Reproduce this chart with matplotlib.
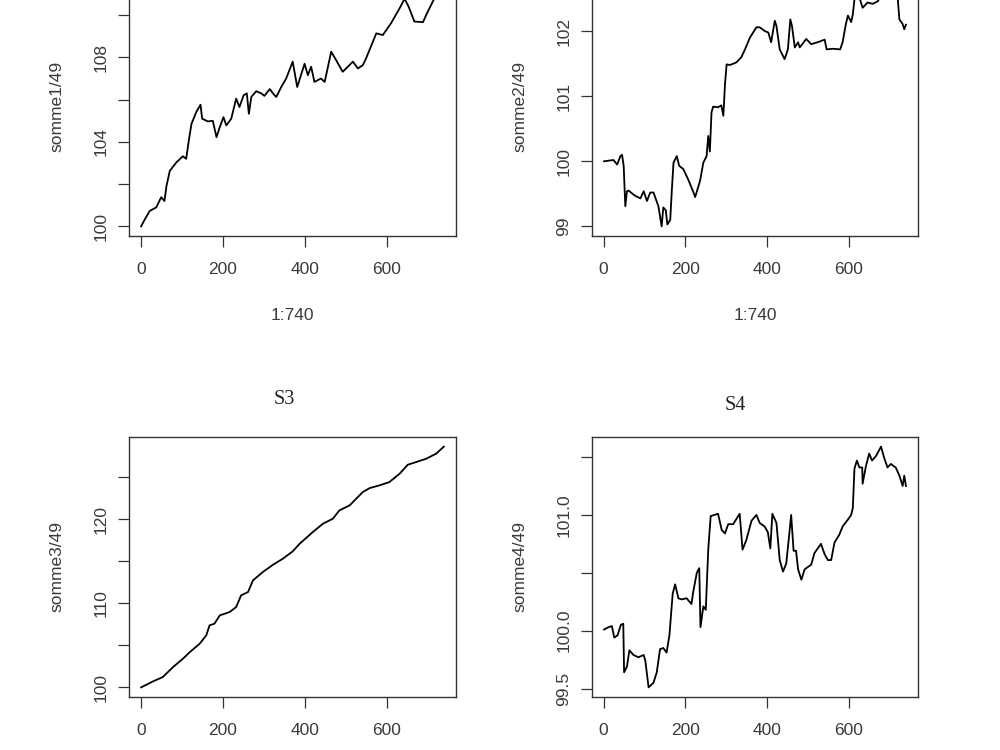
import numpy as np
import matplotlib
matplotlib.use("Agg")
import matplotlib.pyplot as plt

# ---- values (time index -> somme/49) --------------------------------------
N = 740

s1_t = [1, 10, 22, 38, 50, 58, 63, 71, 87, 103, 111, 118, 124, 136, 146, 150, 164, 176,
        185, 193, 202, 209, 221, 233, 241, 251, 259, 264, 270, 282, 294, 302, 315, 327,
        331, 343, 355, 371, 382, 400, 408, 416, 424, 440, 449, 465, 477, 493, 518, 530,
        542, 550, 575, 591, 611, 632, 644, 654, 668, 689, 697, 713, 726, 740]
s1_v = [100.0, 100.33, 100.73, 100.9, 101.38, 101.2, 101.92, 102.63, 103.03, 103.32,
        103.2, 104.14, 104.86, 105.43, 105.76, 105.1, 104.97, 105.0, 104.22, 104.7,
        105.17, 104.78, 105.1, 106.05, 105.65, 106.2, 106.3, 105.33, 106.13, 106.4,
        106.3, 106.18, 106.5, 106.2, 106.13, 106.6, 107.0, 107.8, 106.6, 107.7,
        107.16, 107.56, 106.84, 107.0, 106.84, 108.27, 107.87, 107.32, 107.8, 107.48,
        107.63, 107.95, 109.14, 109.06, 109.62, 110.33, 110.78, 110.4, 109.7, 109.67,
        110.02, 110.65, 111.1, 111.4]

s2_t = [1, 24, 33, 41, 45, 49, 53, 57, 61, 77, 90, 98, 106, 114, 122, 134, 142, 146,
        152, 156, 163, 167, 171, 179, 185, 195, 207, 220, 224, 236, 244, 252, 256, 260,
        264, 268, 280, 288, 293, 297, 301, 309, 325, 337, 346, 358, 374, 382, 395, 403,
        410, 419, 423, 431, 443, 451, 457, 461, 468, 476, 480, 496, 508, 524, 541, 546,
        561, 579, 585, 593, 598, 606, 610, 614, 622, 634, 646, 659, 671, 685, 698, 710,
        720, 724, 732, 736, 740]
s2_v = [100.0, 100.02, 99.95, 100.08, 100.1, 99.93, 99.31, 99.54, 99.55, 99.47,
        99.43, 99.54, 99.39, 99.52, 99.52, 99.31, 99.0, 99.29, 99.25, 99.03,
        99.1, 99.57, 99.98, 100.08, 99.93, 99.88, 99.72, 99.52, 99.45, 99.7,
        99.98, 100.08, 100.39, 100.15, 100.75, 100.84, 100.83, 100.86, 100.7, 101.18,
        101.49, 101.48, 101.52, 101.6, 101.72, 101.9, 102.06, 102.06, 102.0, 101.98,
        101.83, 102.16, 102.08, 101.72, 101.57, 101.72, 102.18, 102.08, 101.75, 101.83,
        101.75, 101.88, 101.8, 101.83, 101.87, 101.72, 101.73, 101.72, 101.83, 102.11,
        102.24, 102.14, 102.26, 102.49, 102.6, 102.36, 102.44, 102.42, 102.46, 102.6,
        102.7, 102.62, 102.5, 102.18, 102.11, 102.03, 102.1]

s3_t = [1, 30, 54, 79, 103, 120, 144, 160, 168, 180, 193, 217, 233, 245, 262, 274, 298,
        323, 347, 371, 388, 420, 445, 469, 485, 510, 542, 559, 583, 607, 632, 652, 672,
        697, 721, 740]
s3_v = [100.0, 100.71, 101.23, 102.42, 103.41, 104.2, 105.2, 106.19, 107.38, 107.58,
        108.57, 108.97, 109.56, 110.95, 111.35, 112.74, 113.73, 114.6, 115.32, 116.19,
        117.1, 118.49, 119.49, 120.08, 121.07, 121.67, 123.25, 123.73, 124.05, 124.44,
        125.44, 126.51, 126.82, 127.22, 127.82, 128.66]

s4_t = [1, 12, 20, 26, 34, 42, 48, 50, 57, 63, 73, 85, 98, 102, 110, 122, 130, 138, 146,
        154, 161, 169, 175, 183, 191, 203, 215, 219, 228, 234, 237, 244, 250, 256, 262,
        280, 289, 297, 305, 317, 333, 340, 349, 362, 374, 382, 394, 402, 408, 413, 423,
        431, 439, 447, 454, 459, 465, 471, 476, 484, 492, 508, 516, 528, 532, 541, 549,
        557, 565, 577, 585, 598, 606, 610, 614, 620, 626, 633, 634, 642, 650, 657, 667,
        679, 687, 695, 703, 715, 724, 732, 736, 740]
s4_v = [100.01, 100.03, 100.04, 99.94, 99.96, 100.05, 100.06, 99.64, 99.69, 99.83,
        99.79, 99.77, 99.79, 99.74, 99.51, 99.55, 99.64, 99.84, 99.85, 99.81,
        99.96, 100.32, 100.4, 100.28, 100.27, 100.28, 100.23, 100.33, 100.5, 100.54,
        100.03, 100.21, 100.18, 100.7, 100.99, 101.01, 100.87, 100.84, 100.92, 100.92,
        101.01, 100.7, 100.78, 100.95, 101.0, 100.93, 100.9, 100.85, 100.71, 101.01,
        100.93, 100.61, 100.51, 100.58, 100.82, 101.0, 100.69, 100.69, 100.53, 100.44,
        100.53, 100.57, 100.67, 100.73, 100.75, 100.66, 100.61, 100.61, 100.76, 100.83,
        100.9, 100.96, 101.0, 101.06, 101.4, 101.47, 101.41, 101.41, 101.27, 101.42,
        101.53, 101.47, 101.51, 101.59, 101.49, 101.41, 101.44, 101.41, 101.34, 101.25,
        101.34, 101.25]

x_ticks = [0, 200, 400, 600]
y_ticks = {
    1: ([100, 102, 104, 106, 108, 110], ["100", "", "104", "", "108", ""]),
    2: ([99, 100, 101, 102], ["99", "100", "101", "102"]),
    3: ([100, 105, 110, 115, 120, 125], ["100", "", "110", "", "120", ""]),
    4: ([99.5, 100, 100.5, 101, 101.5], ["99.5", "100.0", "", "101.0", ""]),
}
ylabels = {1: "somme1/49", 2: "somme2/49", 3: "somme3/49", 4: "somme4/49"}
xlabel = "1:740"
titles = {3: "S3", 4: "S4"}

TXT = "#3a3a3a"
plt.rcParams["font.family"] = ["Liberation Sans", "DejaVu Sans"]
plt.rcParams["font.size"] = 12.5


def rlim(v, pad=0.04):
    # R-style axis range: data range plus 4% each side
    lo, hi = min(v), max(v)
    r = hi - lo
    return lo - pad * r, hi + pad * r


fig = plt.figure(figsize=(10, 7.5), dpi=100)
W, H = 1000.0, 750.0


def panel(k, left, right, top, bottom, t, v, show_xlabel, title_x=None, title_y=None):
    ax = fig.add_axes([left / W, 1 - bottom / H, (right - left) / W, (bottom - top) / H])
    ax.plot(t, v, color="black", lw=1.3)
    ax.set_xlim(rlim([1, N]))
    ax.set_ylim(rlim(v))
    ax.set_xticks(x_ticks)
    ax.set_xticklabels([str(x) for x in x_ticks])
    yt, yl = y_ticks[k]
    ax.set_yticks(yt)
    ax.set_yticklabels(yl, rotation=90, va="center")
    ax.tick_params(direction="out", length=8, width=0.9, color="#333333",
                   labelcolor=TXT, labelsize=12.5)
    ax.tick_params(axis="x", pad=11)
    ax.tick_params(axis="y", pad=7)
    for s in ax.spines.values():
        s.set_color("#333333")
        s.set_linewidth(1.0)
    ax.set_ylabel(ylabels[k], color=TXT, labelpad=21)
    if show_xlabel:
        ax.set_xlabel(xlabel, color=TXT, labelpad=22)
    if k in titles:
        fig.text(title_x / W, 1 - title_y / H, titles[k], ha="center", va="center",
                 fontsize=14.5, color="#222222",
                 family=["Liberation Serif", "DejaVu Serif"])
    return ax


panel(1, 129, 456, -24, 236, s1_t, s1_v, True)
panel(2, 592, 918, -24, 236, s2_t, s2_v, True)
panel(3, 129, 456, 437, 697, s3_t, s3_v, False, 284, 400)
panel(4, 592, 918, 437, 697, s4_t, s4_v, False, 735, 405)

fig.savefig("out.png", dpi=100)
